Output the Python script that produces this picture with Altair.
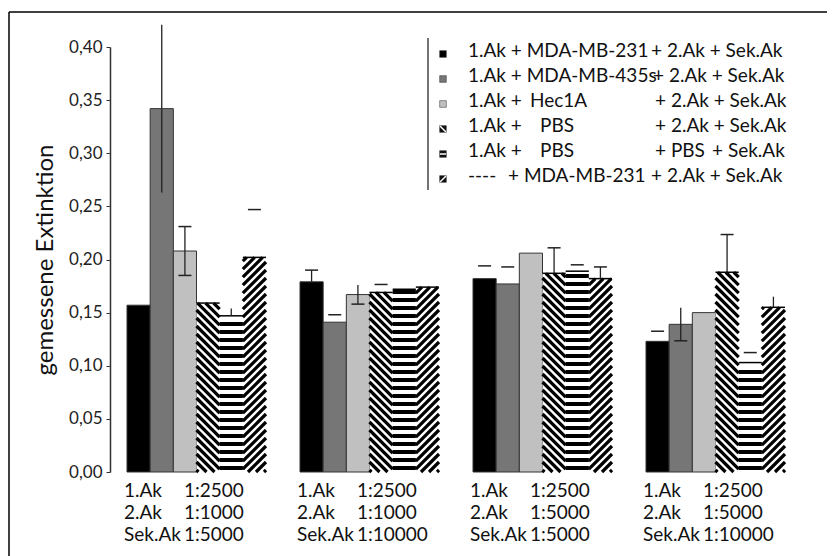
import altair as alt
import pandas as pd

# ---------------- data ----------------
series = [
    "1.Ak + MDA-MB-231 + 2.Ak + Sek.Ak",
    "1.Ak + MDA-MB-435s + 2.Ak + Sek.Ak",
    "1.Ak + Hec1A + 2.Ak + Sek.Ak",
    "1.Ak + PBS + 2.Ak + Sek.Ak",
    "1.Ak + PBS + PBS + Sek.Ak",
    "---- + MDA-MB-231 + 2.Ak + Sek.Ak",
]
# legend text pieces per row (the original aligns them in columns)
legend_first = ["1.Ak + MDA-MB-231", "1.Ak + MDA-MB-435s", "1.Ak +", "1.Ak +", "1.Ak +", "----"]
legend_name = ["", "", "Hec1A", "PBS", "PBS", "+ MDA-MB-231"]
legend_second = ["+ 2.Ak + Sek.Ak", "+ 2.Ak + Sek.Ak", "+ 2.Ak + Sek.Ak",
                 "+ 2.Ak + Sek.Ak", "+ PBS", "+ 2.Ak + Sek.Ak"]
legend_last = ["", "", "", "", "+ Sek.Ak", ""]
series_fill = ["#000000", "#767676", "#c0c0c0", "#ffffff", "#ffffff", "#ffffff"]
series_pattern = ["solid", "solid", "solid", "diag_down", "horizontal", "diag_up"]

group_left = ["1.Ak", "2.Ak", "Sek.Ak"]
group_ratios = [
    ["1:2500", "1:1000", "1:5000"],
    ["1:2500", "1:1000", "1:10000"],
    ["1:2500", "1:5000", "1:5000"],
    ["1:2500", "1:5000", "1:10000"],
]

means = [
    [0.157, 0.342, 0.208, 0.159, 0.147, 0.202],
    [0.179, 0.141, 0.167, 0.169, 0.172, 0.174],
    [0.182, 0.177, 0.206, 0.187, 0.189, 0.182],
    [0.123, 0.139, 0.150, 0.188, 0.103, 0.155],
]
errs = [
    [0.0, 0.079, 0.023, 0.0, 0.007, 0.045],
    [0.011, 0.007, 0.009, 0.0075, 0.0, 0.0],
    [0.012, 0.016, 0.0, 0.024, 0.006, 0.011],
    [0.0095, 0.0155, 0.0, 0.0355, 0.0094, 0.010],
]
# how each error bar appears in the picture
err_styles = [
    ["none", "symline", "sym", "none", "upline", "cap"],
    ["up", "cap", "symlow", "cap", "none", "none"],
    ["cap", "cap", "none", "up", "cap", "up"],
    ["cap", "symlow", "none", "up", "cap", "upline"],
]

y_ticks = [0.0, 0.05, 0.10, 0.15, 0.20, 0.25, 0.30, 0.35, 0.40]

# ---------------- geometry ----------------
W, H = 692, 425
YMAX = 0.40
PX_X = W / 4.0          # px per group unit
PX_Y = H / YMAX         # px per y unit
GROUP_PAD = 17 / PX_X
BAR_W = 139 / PX_X / 6
CAP_HALF = 6.5 / PX_X
FONT = "Lato"

bars, stripes, tops, rules, caps = [], [], [], [], []
for g in range(4):
    for i in range(6):
        x0 = g + GROUP_PAD + i * BAR_W
        x1 = x0 + BAR_W
        m = means[g][i]
        pat = series_pattern[i]
        bars.append(dict(x0=x0, x1=x1, y0=0.0, m=m, fill=series_fill[i],
                         stroke="#333333" if pat == "solid" else "#000000",
                         sw=1.0 if pat == "solid" else 0.0))
        if pat != "solid":
            tops.append(dict(x0=x0, x1=x1, m=m))
            w = BAR_W * PX_X
            h = m * PX_Y
            P = 8.0
            segs = []
            if pat == "horizontal":
                y = P / 2
                while y < h - 2:
                    segs.append((0, y, w, y, 4.0))
                    y += P
            elif pat == "diag_down":
                c = 2.0
                while c < w + h:
                    xa, xb = max(0.0, c - h), min(w, c)
                    if xb - xa > 0.8:
                        segs.append((xa, c - xa, xb, c - xb, 3.2))
                    c += P
            else:
                c = -w + 2.0
                while c < h:
                    xa, xb = max(0.0, -c), min(w, h - c)
                    if xb - xa > 0.8:
                        segs.append((xa, xa + c, xb, xb + c, 3.2))
                    c += P
            for (ax, ay, bx, by, sw) in segs:
                stripes.append(dict(xa=x0 + ax / PX_X, ya=ay / PX_Y,
                                    xb=x0 + bx / PX_X, yb=by / PX_Y, sw=sw))
        e = errs[g][i]
        st = err_styles[g][i]
        xc = (x0 + x1) / 2
        if st in ("sym", "symlow", "symline"):
            rules.append(dict(xc=xc, lo=m - e, hi=m + e))
        if st in ("up", "upline"):
            rules.append(dict(xc=xc, lo=m, hi=m + e))
        if st in ("sym", "up", "cap"):
            caps.append(dict(ca=xc - CAP_HALF, cb=xc + CAP_HALF, y=m + e))
        if st in ("sym", "symlow"):
            caps.append(dict(ca=xc - CAP_HALF, cb=xc + CAP_HALF, y=m - e))

bars_df = pd.DataFrame(bars)
stripes_df = pd.DataFrame(stripes)
tops_df = pd.DataFrame(tops)
rules_df = pd.DataFrame(rules)
caps_df = pd.DataFrame(caps)

xs = alt.Scale(domain=[0, 4], nice=False, zero=False)
ys = alt.Scale(domain=[0, YMAX], nice=False)

yaxis = alt.Axis(
    values=y_ticks,
    labelExpr="replace(format(datum.value, '.2f'), '.', ',')",
    title="gemessene Extinktion",
    grid=False,
    domainColor="#333333", domainWidth=1.5,
    tickColor="#333333", tickSize=4, tickWidth=1,
    labelFontSize=17, labelColor="#222222", labelFont=FONT, labelPadding=4,
    titleFontSize=24, titleFontWeight="normal", titleFont=FONT, titleColor="#111111",
    titlePadding=11,
)

bar_layer = alt.Chart(bars_df).mark_rect().encode(
    x=alt.X("x0:Q", scale=xs, axis=None),
    x2="x1:Q",
    y=alt.Y("y0:Q", scale=ys, axis=yaxis),
    y2="m:Q",
    fill=alt.Fill("fill:N", scale=None),
    stroke=alt.Stroke("stroke:N", scale=None),
    strokeWidth=alt.StrokeWidth("sw:Q", scale=None),
)

stripe_layer = alt.Chart(stripes_df).mark_rule(color="#000000", strokeCap="butt").encode(
    x=alt.X("xa:Q", scale=xs), x2="xb:Q",
    y=alt.Y("ya:Q", scale=ys), y2="yb:Q",
    strokeWidth=alt.StrokeWidth("sw:Q", scale=None),
)

top_layer = alt.Chart(tops_df).mark_rule(color="#000000", strokeWidth=1.5).encode(
    x=alt.X("x0:Q", scale=xs), x2="x1:Q", y=alt.Y("m:Q", scale=ys),
)

err_layer = alt.Chart(rules_df).mark_rule(color="#222222", strokeWidth=1.3).encode(
    x=alt.X("xc:Q", scale=xs), y=alt.Y("lo:Q", scale=ys), y2="hi:Q",
)

cap_layer = alt.Chart(caps_df).mark_rule(color="#222222", strokeWidth=1.5).encode(
    x=alt.X("ca:Q", scale=xs), x2="cb:Q", y=alt.Y("y:Q", scale=ys),
)

# group labels below the bars
glab = []
for g in range(4):
    for k in range(3):
        gx = g + GROUP_PAD
        glab.append(dict(x=gx - 3 / PX_X, py=H + 19 + 22 * k, t=group_left[k]))
        glab.append(dict(x=gx + 57 / PX_X, py=H + 19 + 22 * k, t=group_ratios[g][k]))
glab_df = pd.DataFrame(glab)
glab_layer = alt.Chart(glab_df).mark_text(
    align="left", baseline="middle", fontSize=19, font=FONT, color="#111111"
).encode(
    x=alt.X("x:Q", scale=xs), y=alt.Y("py:Q", scale=None), text="t:N",
)

# custom legend (top right), positions in px relative to the plot area
OX, OY = 110, 47
leg_rows = []
name_x = [0, 0, 530, 540, 540, 508]
second_x = [651, 653, 655, 655, 655, 651]
for r in range(6):
    py = 51 + 25 * r - OY
    leg_rows.append(dict(py=py, t=legend_first[r], x=468 - OX))
    if legend_name[r]:
        leg_rows.append(dict(py=py, t=legend_name[r], x=name_x[r] - OX))
    leg_rows.append(dict(py=py, t=legend_second[r], x=second_x[r] - OX))
    if legend_last[r]:
        leg_rows.append(dict(py=py, t=legend_last[r], x=712 - OX))
leg_df = pd.DataFrame(leg_rows)
leg_text = alt.Chart(leg_df).mark_text(
    align="left", baseline="middle", fontSize=19, font=FONT, color="#111111"
).encode(x=alt.X("x:Q", scale=None), y=alt.Y("py:Q", scale=None), text="t:N")

icons = pd.DataFrame(dict(
    ix=[443 - OX] * 6,
    py=[54 + 25 * r - OY for r in range(6)],
    fill=[series_fill[r] if series_pattern[r] == "solid" else "#111111" for r in range(6)],
))
leg_icon = alt.Chart(icons).mark_square(size=45, opacity=1).encode(
    x=alt.X("ix:Q", scale=None), y=alt.Y("py:Q", scale=None),
    fill=alt.Fill("fill:N", scale=None), stroke=alt.value("#333333"), strokeWidth=alt.value(0.5),
)
icon_lines = pd.DataFrame([
    dict(x1=440 - OX, x2=446 - OX, y1=129 - 3 - OY, y2=129 + 3 - OY),
    dict(x1=440 - OX, x2=446 - OX, y1=154 - OY, y2=154 - OY),
    dict(x1=440 - OX, x2=446 - OX, y1=179 + 3 - OY, y2=179 - 3 - OY),
])
leg_icon_lines = alt.Chart(icon_lines).mark_rule(color="#ffffff", strokeWidth=1.5).encode(
    x=alt.X("x1:Q", scale=None), x2="x2:Q", y=alt.Y("y1:Q", scale=None), y2="y2:Q",
)
leg_bar = alt.Chart(pd.DataFrame({"k": [0]})).mark_rule(color="#444444", strokeWidth=1.5).encode(
    x=alt.value(428 - OX), y=alt.value(38 - OY), y2=alt.value(190 - OY),
)

# outer frame of the figure (top and left edges)
frame_top = alt.Chart(pd.DataFrame({"k": [0]})).mark_rule(color="#000000", strokeWidth=1.5).encode(
    x=alt.value(-101), x2=alt.value(827 - OX), y=alt.value(12 - OY),
)
frame_left = alt.Chart(pd.DataFrame({"k": [0]})).mark_rule(color="#000000", strokeWidth=1.5).encode(
    x=alt.value(-101), y=alt.value(12 - OY), y2=alt.value(560 - OY),
)

chart = alt.layer(
    frame_top, frame_left,
    bar_layer, stripe_layer, top_layer, err_layer, cap_layer,
    glab_layer, leg_bar, leg_icon, leg_icon_lines, leg_text,
).properties(
    width=W, height=H,
    padding={"left": 102, "top": 39, "right": 25, "bottom": 84},
    autosize=alt.AutoSizeParams(type="none"),
    background="#ffffff",
).configure_view(stroke=None)

chart.save("out.html", embed_options={"renderer": "svg", "actions": False})
